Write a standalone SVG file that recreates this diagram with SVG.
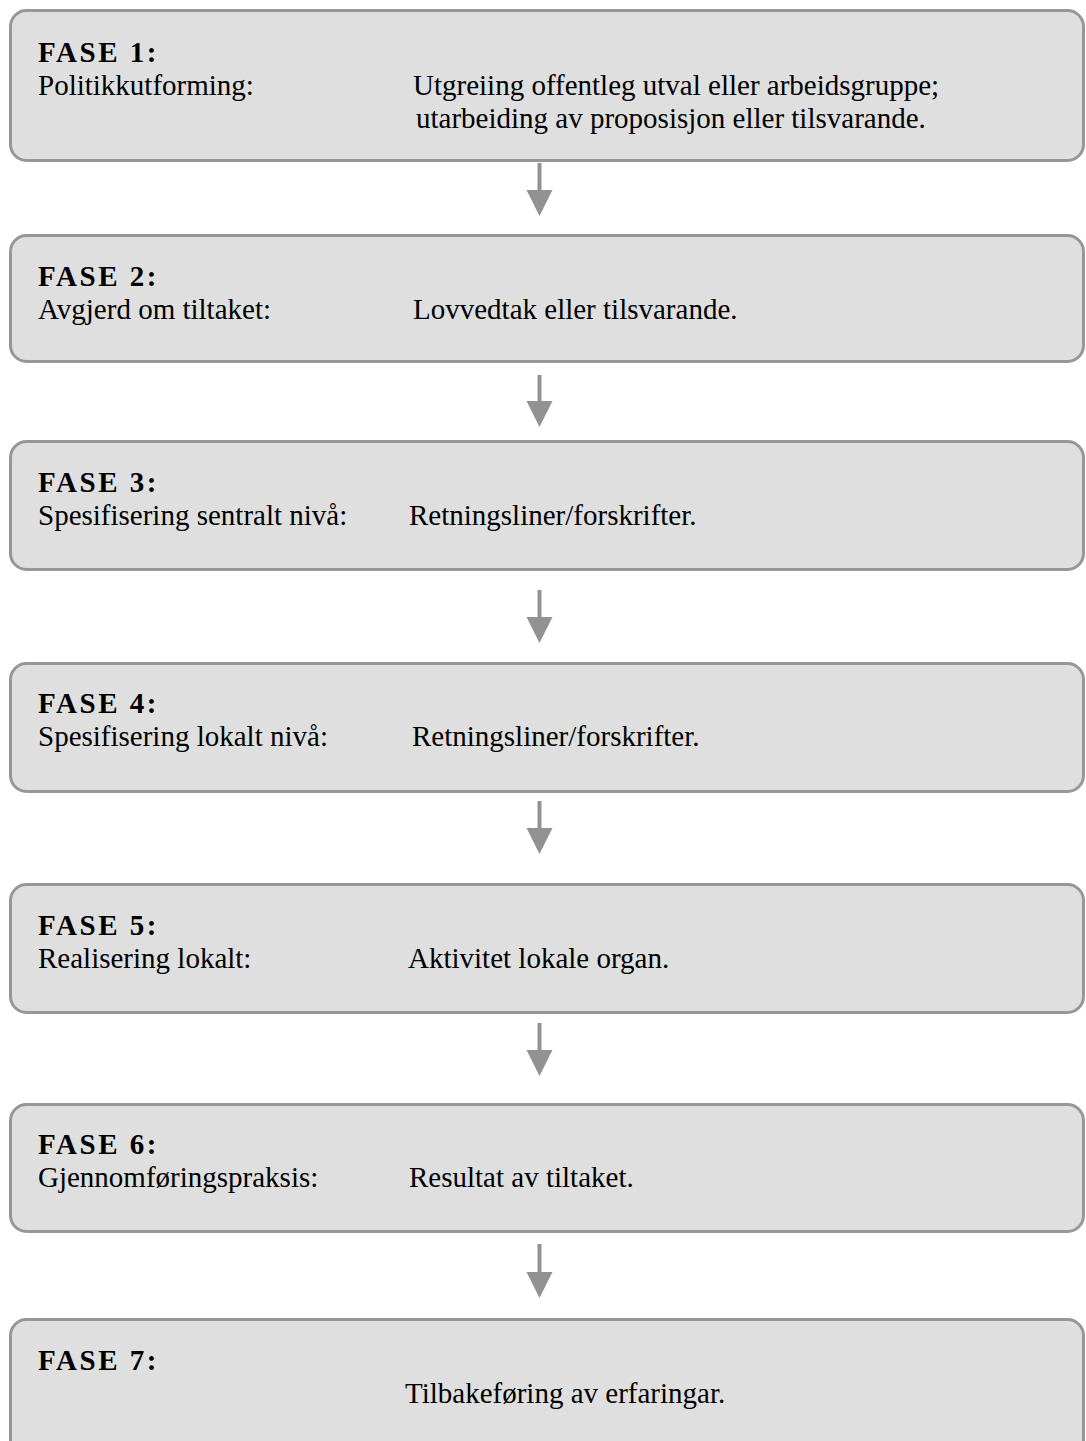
<svg xmlns="http://www.w3.org/2000/svg" width="1086" height="1441" viewBox="0 0 1086 1441">
<style>
.box{fill:#dfdfdf;stroke:#979797;stroke-width:3}
.t{font-family:"Liberation Serif","Times New Roman",serif;font-size:29px;fill:#000}
.h{font-weight:bold;letter-spacing:2.5px}
.shaft{stroke:#929292;stroke-width:4}
.head{fill:#929292}
</style>
<rect width="1086" height="1441" fill="#fff"/>
<g id="fase1">
<rect class="box" x="10.5" y="10.5" width="1073" height="150" rx="16"/>
<text class="t h" x="38" y="62">FASE 1:</text>
<text class="t" x="38" y="95">Politikkutforming:</text>
<text class="t" x="413" y="95">Utgreiing offentleg utval eller arbeidsgruppe;</text>
<text class="t" x="416" y="128">utarbeiding av proposisjon eller tilsvarande.</text>
</g>
<g id="fase2">
<rect class="box" x="10.5" y="235.5" width="1073" height="126" rx="16"/>
<text class="t h" x="38" y="286">FASE 2:</text>
<text class="t" x="38" y="319">Avgjerd om tiltaket:</text>
<text class="t" x="413" y="319">Lovvedtak eller tilsvarande.</text>
</g>
<g id="fase3">
<rect class="box" x="10.5" y="441.5" width="1073" height="128" rx="16"/>
<text class="t h" x="38" y="492">FASE 3:</text>
<text class="t" x="38" y="525">Spesifisering sentralt nivå:</text>
<text class="t" x="409" y="525">Retningsliner/forskrifter.</text>
</g>
<g id="fase4">
<rect class="box" x="10.5" y="663.5" width="1073" height="128" rx="16"/>
<text class="t h" x="38" y="713">FASE 4:</text>
<text class="t" x="38" y="746">Spesifisering lokalt nivå:</text>
<text class="t" x="412" y="746">Retningsliner/forskrifter.</text>
</g>
<g id="fase5">
<rect class="box" x="10.5" y="884.5" width="1073" height="128" rx="16"/>
<text class="t h" x="38" y="935">FASE 5:</text>
<text class="t" x="38" y="968">Realisering lokalt:</text>
<text class="t" x="408" y="968">Aktivitet lokale organ.</text>
</g>
<g id="fase6">
<rect class="box" x="10.5" y="1104.5" width="1073" height="127" rx="16"/>
<text class="t h" x="38" y="1154">FASE 6:</text>
<text class="t" x="38" y="1187">Gjennomføringspraksis:</text>
<text class="t" x="409" y="1187">Resultat av tiltaket.</text>
</g>
<g id="fase7">
<rect class="box" x="10.5" y="1319.5" width="1073" height="140" rx="16"/>
<text class="t h" x="38" y="1370">FASE 7:</text>
<text class="t" x="405" y="1403">Tilbakeføring av erfaringar.</text>
</g>
<g id="connectors">
<line class="shaft" x1="539.5" y1="163" x2="539.5" y2="192"/><polygon class="head" points="526.5,190 552.5,190 539.5,216"/>
<line class="shaft" x1="539.5" y1="375" x2="539.5" y2="403"/><polygon class="head" points="526.5,401 552.5,401 539.5,427"/>
<line class="shaft" x1="539.5" y1="590" x2="539.5" y2="619"/><polygon class="head" points="526.5,617 552.5,617 539.5,643"/>
<line class="shaft" x1="539.5" y1="801" x2="539.5" y2="830"/><polygon class="head" points="526.5,828 552.5,828 539.5,854"/>
<line class="shaft" x1="539.5" y1="1023" x2="539.5" y2="1052"/><polygon class="head" points="526.5,1050 552.5,1050 539.5,1076"/>
<line class="shaft" x1="539.5" y1="1244" x2="539.5" y2="1274"/><polygon class="head" points="526.5,1272 552.5,1272 539.5,1298"/>
</g>
</svg>
